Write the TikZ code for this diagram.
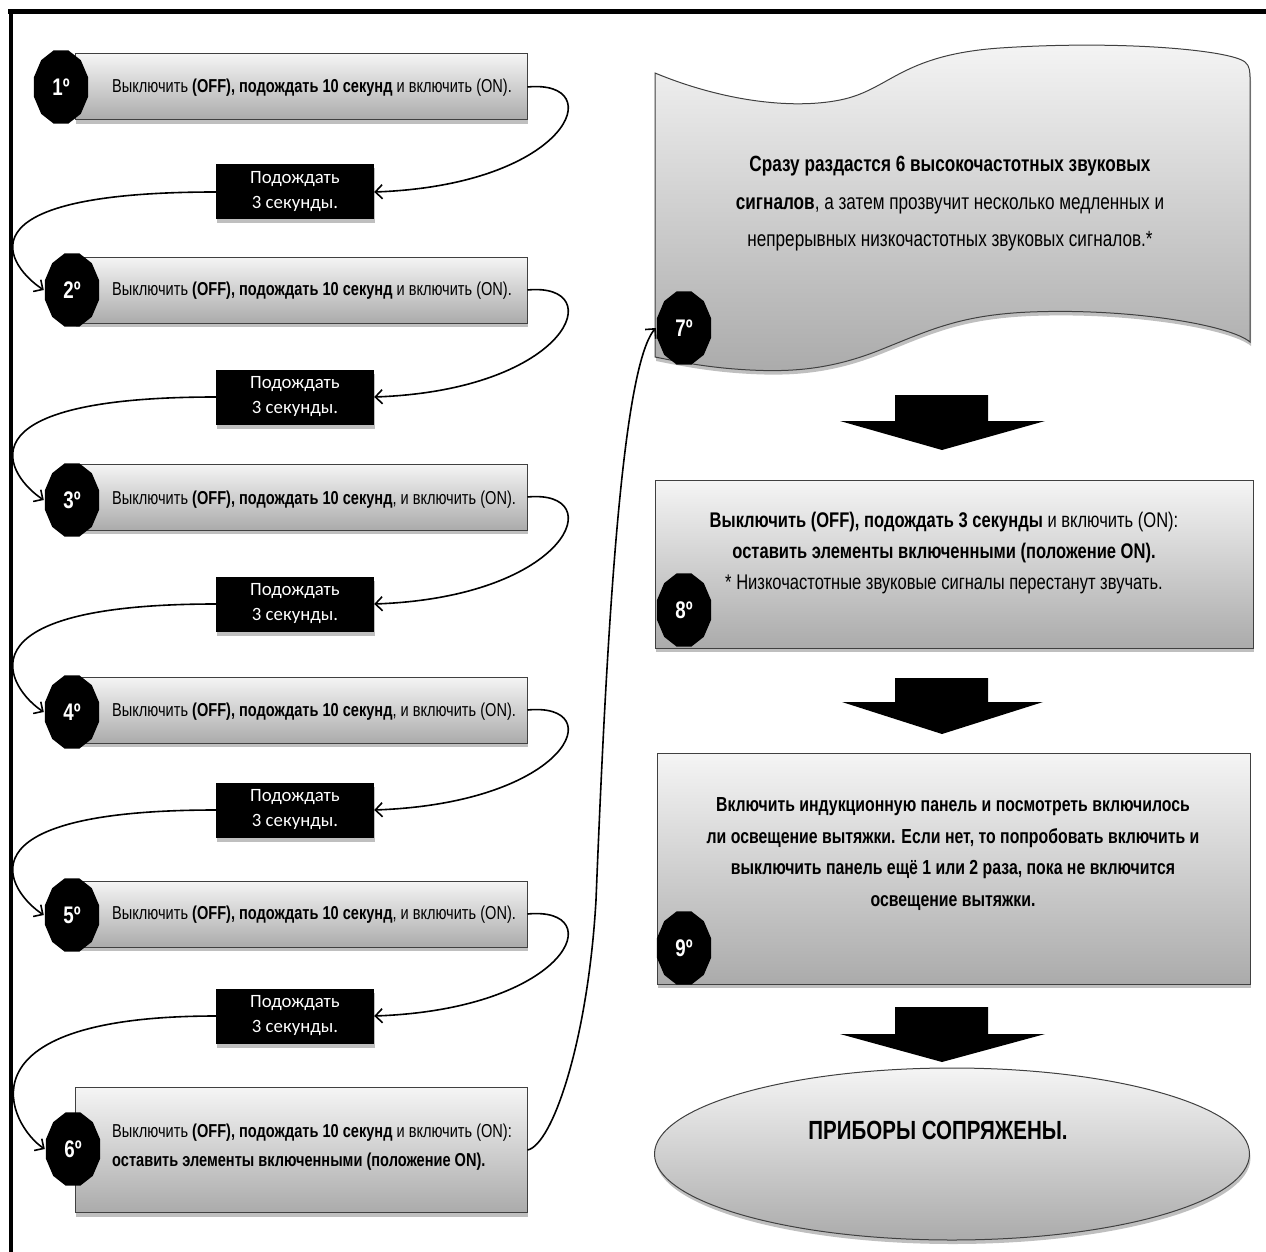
\documentclass[tikz,border=0pt]{standalone}
\usepackage{fontspec}
\newfontfamily\narfont[FakeStretch=0.78]{Liberation Sans}
\newfontfamily\calfont{Carlito}
\usetikzlibrary{arrows.meta,shadows,shapes.geometric}
\newcommand{\octnode}[4]{%
  \fill[black] plot[samples=13,domain=0:360,variable=\t] ({#2+28*cos(\t+15)},{#3+38*sin(\t+15)}) -- cycle;
  \node[numtag] (#1) at (#2,#3) {#4};}
\begin{document}
\begin{tikzpicture}[x=1pt,y=-1pt,
  sh/.style={drop shadow={shadow xshift=1pt,shadow yshift=-4pt,opacity=0.25,fill=black}},
  greyfill/.style={draw=black!75,line width=1pt,top color=black!4,bottom color=black!33},
  stepbox/.style={greyfill,sh,rectangle,inner sep=0pt,minimum width=452pt,minimum height=66pt},
  bbox/.style={fill=black,sh,text=white,inner sep=0pt,minimum width=158pt,minimum height=55pt,align=center,font=\calfont\fontsize{18.8}{25}\selectfont},
  numtag/.style={ellipse,inner sep=0pt,minimum width=56pt,minimum height=76pt,text=white,font=\narfont\bfseries\fontsize{24}{24}\selectfont},
  steptxt/.style={anchor=west,inner sep=0pt,align=left,font=\narfont\fontsize{18.7}{29}\selectfont},
  conn/.style={line width=1.6pt,-{Straight Barb[length=7pt,width=14pt]}},
  blockarrow/.style={fill=black}]
\useasboundingbox (0,0) rectangle (1266,1252);
% frame
\draw[line width=5pt] (8,12) -- (1266,12);
\draw[line width=3.5pt] (11,10) -- (11,1252);

% left column boxes
\node[stepbox] (s1) at (301,87) {};
\node[stepbox] (s2) at (301,290) {};
\node[stepbox] (s3) at (301,497) {};
\node[stepbox] (s4) at (301,710) {};
\node[stepbox] (s5) at (301,914) {};
\node[stepbox,minimum height=125pt] (s6) at (301,1150) {};

\node[steptxt] (t1) at (112,88) {Выключить \textbf{(OFF), подождать 10 секунд} и включить (ON).};
\node[steptxt] (t2) at (112,291) {Выключить \textbf{(OFF), подождать 10 секунд} и включить (ON).};
\node[steptxt] (t3) at (112,500) {Выключить \textbf{(OFF), подождать 10 секунд}, и включить (ON).};
\node[steptxt] (t4) at (112,712) {Выключить \textbf{(OFF), подождать 10 секунд}, и включить (ON).};
\node[steptxt] (t5) at (112,915) {Выключить \textbf{(OFF), подождать 10 секунд}, и включить (ON).};
\node[steptxt] (t6) at (112,1147) {Выключить \textbf{(OFF), подождать 10 секунд} и включить (ON):\\\textbf{оставить элементы включенными (положение ON).}};

\octnode{o1}{61}{87}{1º}
\octnode{o2}{72}{290}{2º}
\octnode{o3}{72}{500}{3º}
\octnode{o4}{72}{712}{4º}
\octnode{o5}{72}{915}{5º}
\octnode{o6}{73}{1149}{6º}

% wait boxes
\node[bbox] (b1) at (295,192) {Подождать\\3 секунды.};
\node[bbox] (b2) at (295,397) {Подождать\\3 секунды.};
\node[bbox] (b3) at (295,604) {Подождать\\3 секунды.};
\node[bbox] (b4) at (295,810) {Подождать\\3 секунды.};
\node[bbox] (b5) at (295,1016) {Подождать\\3 секунды.};

% step 7 tape shape
\path[greyfill,sh] (655,73) .. controls (720,100) and (790,110) .. (840,100)
  .. controls (890,90) and (900,55) .. (1000,48)
  .. controls (1120,40) and (1230,50) .. (1245,62)
  .. controls (1250,66) and (1250,72) .. (1250,80)
  -- (1250,342)
  .. controls (1230,325) and (1130,308) .. (1030,312)
  .. controls (960,315) and (930,330) .. (880,350)
  .. controls (830,370) and (790,372) .. (750,370)
  .. controls (710,368) and (680,362) .. (655,357) -- cycle;
\node[align=center,inner sep=0pt,font=\narfont\fontsize{22}{37.5}\selectfont] (t7) at (950,204)
  {\textbf{Сразу раздастся 6 высокочастотных звуковых}\\\textbf{сигналов}, а затем прозвучит несколько медленных и\\непрерывных низкочастотных звуковых сигналов.*};
\octnode{o7}{684}{328}{7º}

% arrow 1
\fill[blockarrow] (895,395) -- (988,395) -- (988,421) -- (1045,421) -- (942,450) -- (840,421) -- (895,421) -- cycle;

% step 8
\node[stepbox,minimum width=598pt,minimum height=168pt] (s8) at (954,564) {};
\node[align=center,inner sep=0pt,font=\narfont\fontsize{21.2}{31}\selectfont] (t8) at (944,553)
  {\textbf{Выключить (OFF), подождать 3 секунды} и включить (ON):\\\textbf{оставить элементы включенными (положение ON).}\\* Низкочастотные звуковые сигналы перестанут звучать.};
\octnode{o8}{684}{610}{8º}

% arrow 2
\fill[blockarrow] (895,678) -- (988,678) -- (988,702) -- (1043,702) -- (942,734) -- (842,702) -- (895,702) -- cycle;

% step 9
\node[stepbox,minimum width=593pt,minimum height=231pt] (s9) at (953.5,868.5) {};
\node[align=center,inner sep=0pt,font=\narfont\bfseries\fontsize{20.3}{31.7}\selectfont] (t9) at (953,854)
  {Включить индукционную панель и посмотреть включилось\\ли освещение вытяжки. Если нет, то попробовать включить и\\выключить панель ещё 1 или 2 раза, пока не включится\\освещение вытяжки.};
\octnode{o9}{684}{948}{9º}

% arrow 3
\fill[blockarrow] (895,1007) -- (988,1007) -- (988,1034) -- (1045,1034) -- (942,1062) -- (840,1034) -- (895,1034) -- cycle;

% final ellipse
\node[ellipse,greyfill,sh,inner sep=0pt,minimum width=595pt,minimum height=172pt] (e) at (952,1154) {};
\node[inner sep=0pt,font=\narfont\bfseries\fontsize{26.3}{26}\selectfont] (te) at (938,1130) {ПРИБОРЫ СОПРЯЖЕНЫ.};

% connectors
\foreach \a/\b/\c in {1/1/2,2/2/3,3/3/4,4/4/5,5/5/6}{
  \draw[conn] (s\a.east) .. controls +(83,-8) and +(196,-7) .. (b\b.east);
  \draw[conn] (b\b.west) .. controls +(-266,0) and +(-34,-22) .. (o\c.west);
}
\coordinate (c67) at (596,900);
\draw[conn] (s6.east) .. controls +(25,-5) and +(-8,140) .. (c67)
  .. controls +(10,-250) and +(-35,40) .. (o7.west);
\end{tikzpicture}
\end{document}
